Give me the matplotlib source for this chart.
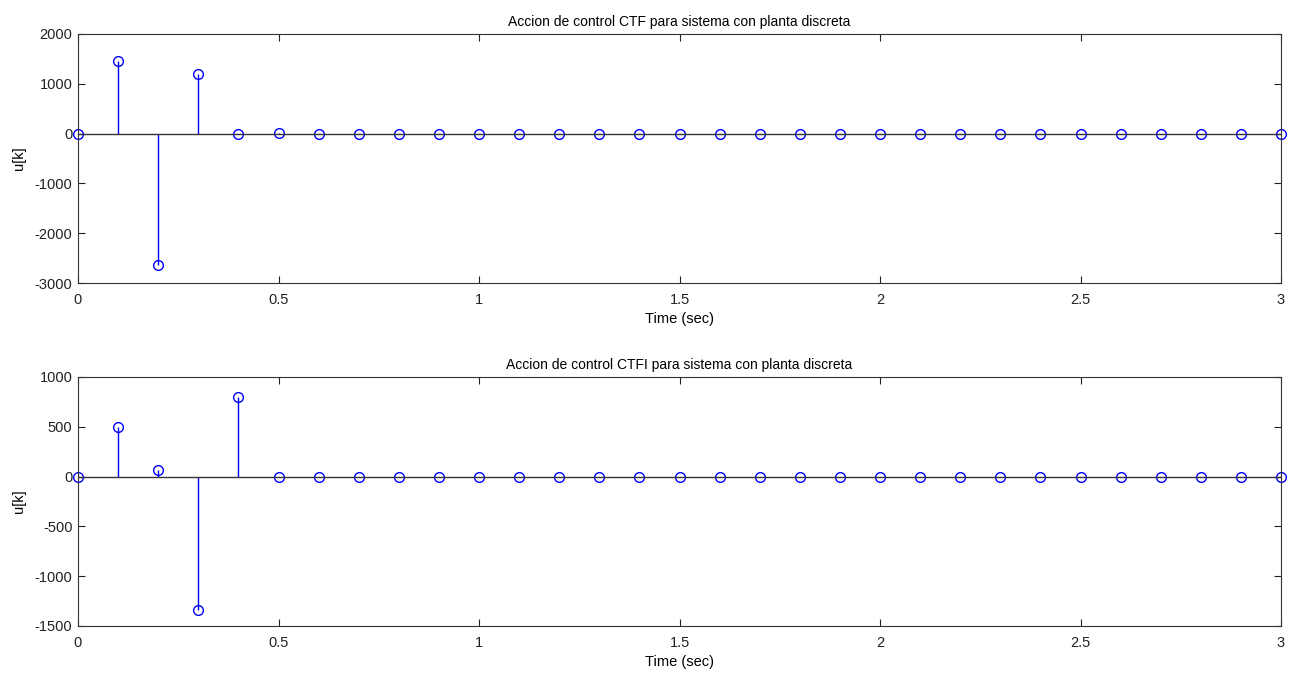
import numpy as np
import matplotlib.pyplot as plt

plt.rcParams['font.family'] = ['Liberation Sans', 'DejaVu Sans']
plt.rcParams['axes.unicode_minus'] = False

t = [round(0.1 * k, 1) for k in range(31)]

u_ctf = [0, 1460, -2640, 1195, 0, 20] + [0] * 25
u_ctfi = [0, 500, 70, -1335, 795] + [0] * 26

titles = ['Accion de control CTF para sistema con planta discreta',
          'Accion de control CTFI para sistema con planta discreta']
ylims = [(-3000, 2000), (-1500, 1000)]
yticks = [[-3000, -2000, -1000, 0, 1000, 2000],
          [-1500, -1000, -500, 0, 500, 1000]]
xticks = [0, 0.5, 1, 1.5, 2, 2.5, 3]

fig = plt.figure(figsize=(13, 6.75), dpi=100)
ax1 = fig.add_axes([0.06, 0.5807, 0.9254, 0.369])
ax2 = fig.add_axes([0.06, 0.0726, 0.9254, 0.369])

for ax, u, title, yl, yt in zip([ax1, ax2], [u_ctf, u_ctfi], titles, ylims, yticks):
    markers, stems, base = ax.stem(t, u, linefmt='b-', markerfmt='bo', basefmt='k-')
    markers.set_markerfacecolor('none')
    markers.set_markersize(7)
    markers.set_markeredgewidth(1.0)
    markers.set_clip_on(False)
    stems.set_linewidth(1.0)
    base.set_linewidth(1.0)
    base.set_color('#333333')
    ax.set_xlim(0, 3)
    ax.set_ylim(*yl)
    ax.set_xticks(xticks)
    ax.set_xticklabels(['0', '0.5', '1', '1.5', '2', '2.5', '3'])
    ax.set_yticks(yt)
    ax.tick_params(direction='in', top=True, right=True, length=5, labelsize=10.5,
                   pad=4, colors='#222222')
    ax.tick_params(axis='x', pad=7)
    ax.set_xlabel('Time (sec)', fontsize=10.5, labelpad=4)
    ax.set_ylabel('u[k]', fontsize=10.5, labelpad=6)
    ax.set_title(title, fontsize=10, pad=6)
    for s in ax.spines.values():
        s.set_linewidth(0.8)
        s.set_color('#333333')

plt.savefig('out.png', dpi=100)
